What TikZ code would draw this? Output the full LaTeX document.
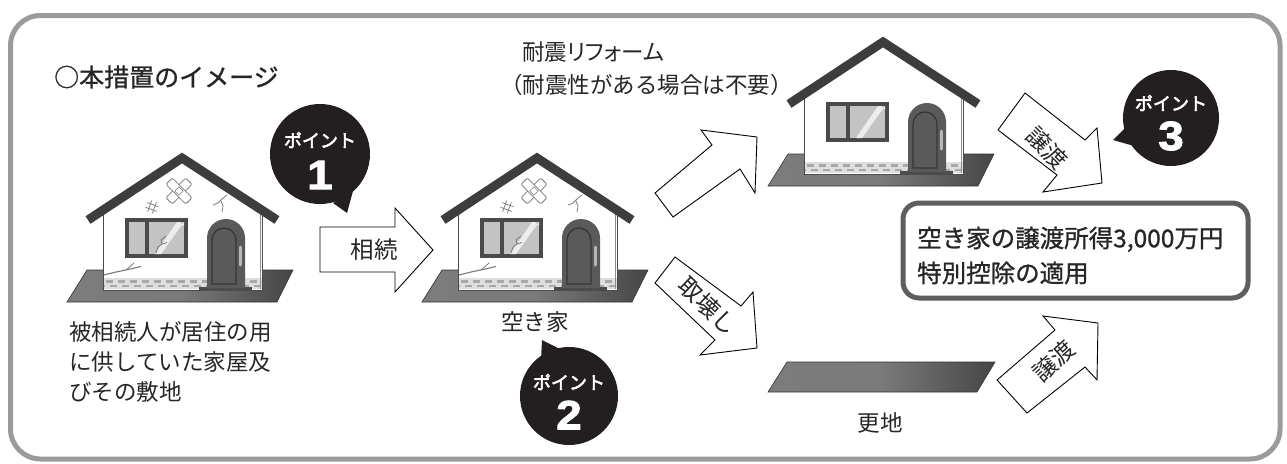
\documentclass[tikz,border=0pt]{standalone}
\usepackage{fontspec}
\newfontfamily\jpfont{Noto Sans CJK JP}
\newfontfamily\jpkana{Noto Sans CJK JP}[RawFeature=+palt]
\newfontfamily\jpmedium{Noto Sans CJK JP}[FakeBold=1.0]
\newfontfamily\jpheavy{Noto Sans CJK JP}[FakeBold=3.2]
\newfontfamily\numfont{Liberation Sans}[FakeBold=2.2,FakeStretch=1.12]

\definecolor{framegray}{HTML}{9B9B9B}
\definecolor{boxgray}{HTML}{5E5E5E}
\definecolor{roofgray}{HTML}{3D3D3D}
\definecolor{wallline}{HTML}{4A4A4A}
\definecolor{glass}{HTML}{C3C3C3}
\definecolor{glare}{HTML}{EDEDED}
\definecolor{doorgray}{HTML}{5A5A5A}
\definecolor{doorline}{HTML}{363636}
\definecolor{knob}{HTML}{B8B8B8}
\definecolor{stoneband}{HTML}{DEDEDE}
\definecolor{stone}{HTML}{A8A8A8}
\definecolor{groundL}{HTML}{7C7C7C}
\definecolor{groundM}{HTML}{7A7A7A}
\definecolor{groundR}{HTML}{464646}
\definecolor{crack}{HTML}{7A7A7A}
\definecolor{bubble}{HTML}{231F20}
\definecolor{ink}{HTML}{262626}

\tikzset{
  txt/.style={inner sep=0pt, text=ink, font=\jpfont\fontsize{22.5}{30}\selectfont},
  blockarrow/.style={draw=black, line width=0.9, fill=white, line join=miter},
  arrowtxt/.style={inner sep=0pt, text=ink, font=\jpfont\fontsize{23.5}{23.5}\selectfont},
  pointlabel/.style={inner sep=0pt, text=white, font=\jpheavy\fontsize{18}{18}\selectfont},
  pointnum/.style={inner sep=0pt, text=white, font=\numfont\bfseries\fontsize{41}{41}\selectfont},
  crackline/.style={draw=crack, line width=0.8, line join=round},
  bandage/.style={draw=crack, line width=0.8, fill=white, rounded corners=2},
  groundslab/.style={left color=groundL, right color=groundR, middle color=groundM, draw=black!80, line width=0.6},
  % a small house standing on its plot
  pics/house/.style={code={
    \shade[groundslab] (87,270) -- (293,270) -- (277,302) -- (67,302) -- cycle;
    \fill[white] (103,290) -- (103,212) -- (182,161) -- (262,212) -- (262,290) -- cycle;
    \fill[stoneband] (103,278) rectangle (262,289);
    \draw[stone, line width=2.4, dash pattern=on 7 off 5] (106,281.5) -- (262,281.5);
    \draw[stone, line width=2.4, dash pattern=on 7 off 5, dash phase=6] (104,286) -- (262,286);
    \draw[wallline, line width=1] (103,212) -- (103,290) -- (262,290) -- (262,212);
    \draw[black!45, line width=1.5] (260.5,214) -- (260.5,289);
    \draw[roofgray, line width=9] (88,220) -- (182,158) -- (277,220);
    % window
    \fill[wallline] (125,218) rectangle (188,258);
    \fill[glass] (129,222) rectangle (145,254);
    \fill[glass] (149,222) rectangle (184,254);
    \fill[glare] (155,254) -- (161,254) -- (184,222) -- (184,226) -- (180,222) -- (177,222) -- cycle;
    % door
    \fill[black!70] (199,287) rectangle (252,291);
    \fill[doorgray] (207,288) -- (207,238) arc[start angle=180, end angle=360, radius=19] -- (245,288) -- cycle;
    \draw[doorline, line width=1.3] (212,284) -- (212,240) arc[start angle=180, end angle=360, radius=12] -- (236,284) -- cycle;
    \draw[knob, line width=3, line cap=round] (240.5,247) -- (240.5,265);
  }},
  % cracks and patches on an old house
  pics/damage/.style={code={
    \begin{scope}[shift={(152,207)}, rotate=-20]
      \draw[crackline, line width=0.7] (-2.5,-6) -- (-2.5,6) (2.5,-6) -- (2.5,6)
        (-6,-2.5) -- (6,-2.5) (-6,2.5) -- (6,2.5);
    \end{scope}
    \begin{scope}[shift={(179,191)}]
      \draw[bandage, rotate=45] (-14,-4.5) rectangle (14,4.5);
      \draw[bandage, rotate=-45] (-14,-4.5) rectangle (14,4.5);
      \draw[crackline, line width=0.6, rotate=45, fill=white] (-3,-3) rectangle (3,3);
    \end{scope}
    \draw[crackline] (213,205) -- (218,203) -- (222,199) -- (227,195);
    \draw[crackline] (221,201) -- (223,206) -- (222,212);
    \draw[crackline, line width=1.1] (104,275) -- (116,272) -- (128,269.5) -- (141,266.5);
    \draw[crackline] (126,270) -- (134,263);
    \draw[crackline] (156,253) -- (158,247) -- (162,244) -- (161,240) -- (166,236);
    \draw[crackline] (162,244) -- (167,242.5);
  }}
}

\begin{document}
\begin{tikzpicture}[x=1pt, y=-1pt]
\useasboundingbox (0,0) rectangle (1287,463);

% outer frame
\draw[framegray, line width=5, rounded corners=30] (10.5,15.5) rectangle (1280,459);

% houses
\pic at (0,0) {house};
\pic at (0,0) {damage};
\pic at (355,0) {house};
\pic at (355,0) {damage};
\pic at (701,-116) {house};

% cleared plot
\shade[groundslab] (787,362) -- (995,362) -- (977,392) -- (768,392) -- cycle;

% block arrows
\draw[blockarrow] (320,227) -- (395,227) -- (395,208) -- (433,250) -- (395,292)
  -- (395,272) -- (320,272) -- cycle;
\draw[blockarrow] (655,193) -- (712,145) -- (701,130) -- (757,137) -- (755,193)
  -- (740,169) -- (673,217) -- cycle;
\draw[blockarrow] (675,257) -- (741,306) -- (753,292) -- (757,348) -- (700,355)
  -- (715,340) -- (655,283) -- cycle;
\draw[blockarrow] (1025,93) -- (1085,140) -- (1097,128) -- (1102,183) -- (1043,192)
  -- (1057,175) -- (998,130) -- cycle;
\draw[blockarrow] (997,380) -- (1055,330) -- (1043,316) -- (1098,323) -- (1097,380)
  -- (1085,367) -- (1027,413) -- cycle;

\node[arrowtxt] (inherit) at (374,250) {相続};
\node[arrowtxt, rotate=-44] (demolish) at (708,306) {取壊し};
\node[arrowtxt, rotate=-45] (transferA) at (1047,148) {譲渡};
\node[arrowtxt, rotate=42] (transferB) at (1054,361) {譲渡};

% point bubbles
\fill[bubble] (320,154) circle[radius=50];
\fill[bubble] (333,203) -- (347,213) -- (353,191) -- cycle;
\node[pointlabel] (p1label) at (320,140) {ポイント};
\node[pointnum] (p1num) at (320,175) {1};

\fill[bubble] (569,396) circle[radius=49];
\fill[bubble] (541,360) -- (542,340) -- (562,350) -- cycle;
\node[pointlabel] (p2label) at (569,382) {ポイント};
\node[pointnum] (p2num) at (569,415) {2};

\fill[bubble] (1171,118) circle[radius=48];
\fill[bubble] (1125,128) -- (1113,140) -- (1134,146) -- cycle;
\node[pointlabel] (p3label) at (1171,103) {ポイント};
\node[pointnum] (p3num) at (1171,136) {3};

% result box
\node[draw=boxgray, line width=5, rounded corners=16, fill=white, inner sep=0pt,
  minimum width=345, minimum height=95] (resbox) at (1075.5,250.5) {};
\node[anchor=west, align=left, inner sep=0pt, text=ink,
  font=\jpmedium\fontsize{24.5}{35}\selectfont] (restext) at (917,255.5)
  {空き家の譲渡所得3,000万円\\特別控除の適用};

% labels
\node[anchor=west, inner sep=0pt, text=ink, font=\jpmedium\fontsize{25}{25}\selectfont]
  (title) at (54,77) {○本措置のイメージ};
\node[anchor=west, inner sep=0pt, text=ink, font=\jpkana\fontsize{22.5}{22.5}\selectfont]
  (reform) at (522,52) {耐震リフォーム};
\node[txt, anchor=west] (reformnote) at (500,85) {（耐震性がある場合は不要）};
\node[txt, anchor=north west, align=left] (origin) at (69,321)
  {被相続人が居住の用\\に供していた家屋及\\びその敷地};
\node[txt] (vacant) at (535,322) {空き家};
\node[txt] (vacantlot) at (880,423) {更地};
\end{tikzpicture}
\end{document}
